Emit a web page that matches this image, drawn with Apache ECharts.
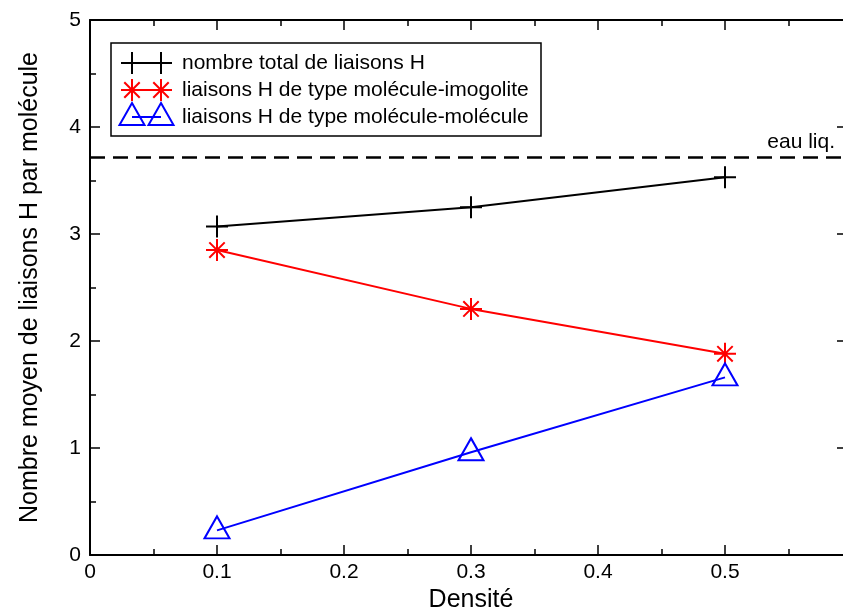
<!DOCTYPE html>
<html><head><meta charset="utf-8">
<script src="https://cdn.jsdelivr.net/npm/echarts@6/dist/echarts.min.js"></script>
<style>html,body{margin:0;padding:0;background:#fff;overflow:hidden}#c{width:843px;height:611px}</style>
</head><body><div id="c"></div>
<script>
// ---- data ----
const density = [0.1, 0.3, 0.5];
const totalHBonds = [3.07, 3.25, 3.53];
const moleculeImogolite = [2.85, 2.30, 1.88];
const moleculeMolecule = [0.23, 0.96, 1.66];
const liquidWater = 3.72;
const seriesNames = [
  'nombre total de liaisons H',
  'liaisons H de type molécule-imogolite',
  'liaisons H de type molécule-molécule'
];
const seriesColors = ['#000000', '#ff0000', '#0000ff'];
const xTitle = 'Densité';
const yTitle = 'Nombre moyen de liaisons H par molécule';
const waterLabel = 'eau liq.';

// ---- styling ----
const FONT = 'Liberation Sans, Arial, Helvetica, sans-serif';
const plusPath = 'path://M10,0L10,20M0,10L20,10';
const starPath = 'path://M10,0L10,20M0,10L20,10M3,3L17,17M17,3L3,17';

function frameAxis(base, showLabels) {
  return Object.assign({
    type: 'value',
    axisLine: { show: true, onZero: false, lineStyle: { color: '#000', width: 2 } },
    axisTick: { show: true, inside: true, length: 10, lineStyle: { color: '#000', width: 1.5 } },
    minorTick: { show: true, splitNumber: 2, length: 6, lineStyle: { color: '#000', width: 1.5 } },
    splitLine: { show: false },
    minorSplitLine: { show: false },
    axisLabel: showLabels ? {
      color: '#000', fontSize: 21, fontFamily: FONT, margin: 7,
      formatter: v => String(+(+v).toFixed(2))
    } : { show: false }
  }, base);
}

const xBottom = frameAxis({ min: 0, max: 0.6, interval: 0.1, position: 'bottom',
  name: xTitle, nameLocation: 'middle', nameGap: 33,
  nameTextStyle: { color: '#000', fontSize: 25, fontFamily: FONT } }, true);
xBottom.axisLabel.showMaxLabel = false;
const xTop = frameAxis({ min: 0, max: 0.6, interval: 0.1, position: 'top' }, false);
const yLeft = frameAxis({ min: 0, max: 5, interval: 1, position: 'left',
  name: yTitle, nameLocation: 'middle', nameGap: 47, nameRotate: 90,
  nameTextStyle: { color: '#000', fontSize: 25, fontFamily: FONT } }, true);
yLeft.axisLabel.margin = 9;
const yRight = frameAxis({ min: 0, max: 5, interval: 1, position: 'right' }, false);
yRight.axisTick.length = 15;
yRight.minorTick.length = 9;

const pts = ys => density.map((x, i) => [x, ys[i]]);

const series = [
  {
    type: 'line', name: seriesNames[0], data: pts(totalHBonds),
    symbol: plusPath, symbolSize: 22,
    itemStyle: { color: seriesColors[0], borderColor: seriesColors[0], borderWidth: 2 },
    lineStyle: { color: seriesColors[0], width: 2 },
    markLine: {
      silent: true, symbol: 'none', animation: false,
      lineStyle: { color: '#000', type: [15, 8], width: 2.5 },
      label: { show: true, formatter: waterLabel, position: 'insideEndTop', distance: [17, 4],
               color: '#000', fontSize: 21, fontFamily: FONT },
      data: [{ yAxis: liquidWater }]
    }
  },
  {
    type: 'line', name: seriesNames[1], data: pts(moleculeImogolite),
    symbol: starPath, symbolSize: 22,
    itemStyle: { color: seriesColors[1], borderColor: seriesColors[1], borderWidth: 2 },
    lineStyle: { color: seriesColors[1], width: 2 }
  },
  {
    type: 'line', name: seriesNames[2], data: pts(moleculeMolecule),
    symbol: 'triangle', symbolSize: [25, 22], symbolOffset: [0, -3],
    itemStyle: { color: 'rgba(0,0,0,0)', borderColor: seriesColors[2], borderWidth: 2 },
    lineStyle: { color: seriesColors[2], width: 2 }
  }
];

// ---- legend drawn as a boxed key ----
const legBox = { x: 111, y: 43, w: 430, h: 93 };
const rowY = [63, 90, 117];
const symX = [132, 161];
const graphic = [{
  type: 'rect', z: 50,
  shape: { x: legBox.x, y: legBox.y, width: legBox.w, height: legBox.h },
  style: { fill: '#fff', stroke: '#000', lineWidth: 1.5 }
}];
function seg(x1, y1, x2, y2, c) {
  return { type: 'line', z: 51, shape: { x1, y1, x2, y2 }, style: { stroke: c, lineWidth: 2 } };
}
seriesNames.forEach((name, i) => {
  const y = rowY[i], c = seriesColors[i];
  graphic.push(seg(symX[0], y, symX[1], y, c));
  symX.forEach(sx => {
    if (i === 0) {
      graphic.push(seg(sx - 11, y, sx + 11, y, c), seg(sx, y - 11, sx, y + 11, c));
    } else if (i === 1) {
      graphic.push(seg(sx - 11, y, sx + 11, y, c), seg(sx, y - 11, sx, y + 11, c),
                   seg(sx - 7.7, y - 7.7, sx + 7.7, y + 7.7, c), seg(sx + 7.7, y - 7.7, sx - 7.7, y + 7.7, c));
    } else {
      graphic.push({ type: 'polygon', z: 51,
        shape: { points: [[sx, y - 14], [sx + 12.5, y + 8], [sx - 12.5, y + 8]] },
        style: { fill: 'none', stroke: c, lineWidth: 2 } });
    }
  });
  graphic.push({ type: 'text', z: 51, x: 182, y: y,
    style: { text: name, fill: '#000', fontSize: 21, fontFamily: FONT, verticalAlign: 'middle', align: 'left' } });
});

const chart = echarts.init(document.getElementById('c'), null, { renderer: 'canvas' });
chart.setOption({
  animation: false,
  backgroundColor: '#fff',
  grid: { left: 90, top: 20, right: -9, bottom: 56, containLabel: false, outerBoundsMode: 'none' },
  xAxis: [xBottom, xTop],
  yAxis: [yLeft, yRight],
  series: series,
  graphic: graphic
});
</script>
</body></html>
